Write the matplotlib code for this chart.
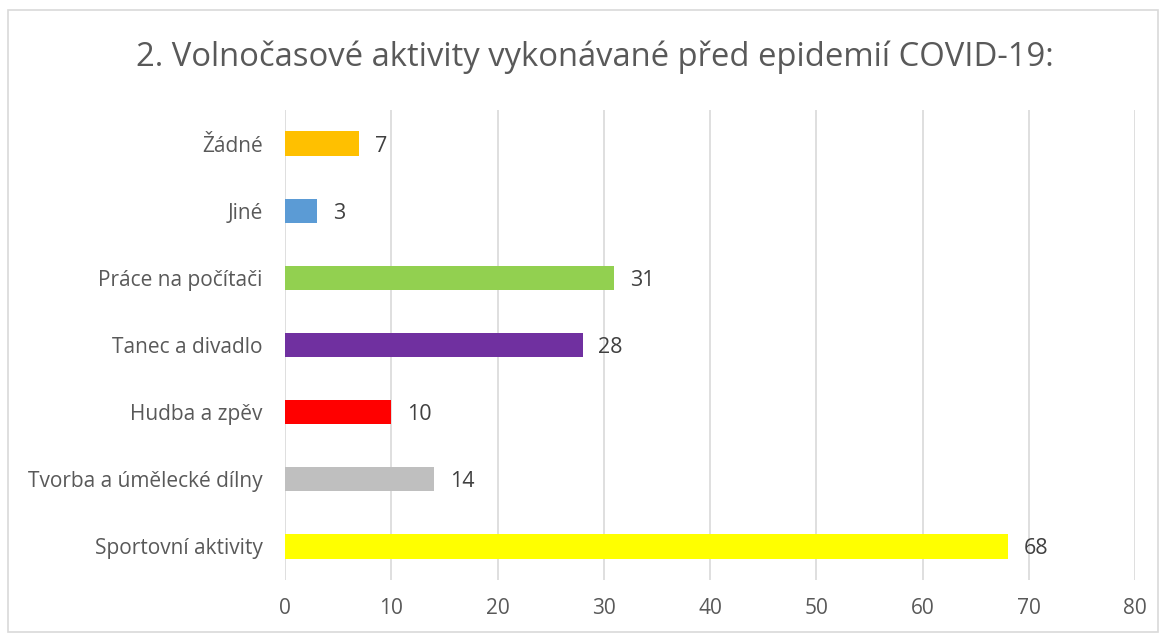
import matplotlib.pyplot as plt
from matplotlib.patches import Rectangle

categories = ['Sportovní aktivity', 'Tvorba a úmělecké dílny', 'Hudba a zpěv',
              'Tanec a divadlo', 'Práce na počítači', 'Jiné', 'Žádné']
values = [68, 14, 10, 28, 31, 3, 7]
colors = ['#FFFF00', '#BFBFBF', '#FF0000', '#7030A0', '#92D050', '#5B9BD5', '#FFC000']

plt.rcParams['font.family'] = ['Open Sans', 'DejaVu Sans']
text_col = '#595959'

fig = plt.figure(figsize=(11.67, 6.35), dpi=100)
fig.patches.append(Rectangle((8 / 1167, 0.005), 1150 / 1167, 1 - 10 / 635 - 0.005,
                             transform=fig.transFigure, fill=False,
                             edgecolor='#d9d9d9', linewidth=1.2))
ax = fig.add_axes([285 / 1167, 1 - 580 / 635, 850 / 1167, 470 / 635])

y = range(len(categories))
ax.barh(y, values, height=0.36, color=colors, zorder=3)
for yi, v in zip(y, values):
    ax.text(v + 1.5, yi, str(v), va='center_baseline', ha='left', fontsize=15.5, color='#404040')

ax.set_xlim(0, 80)
ax.set_ylim(-0.5, len(categories) - 0.5)
ax.set_xticks(range(0, 81, 10))
ax.set_yticks(list(y))
ax.set_yticklabels(categories)
ax.grid(axis='x', color='#d9d9d9', linewidth=1.2, zorder=0)
for s in ax.spines.values():
    s.set_visible(False)
ax.tick_params(axis='both', length=0, labelsize=15, colors=text_col)
ax.tick_params(axis='x', pad=13)
ax.tick_params(axis='y', pad=16)

fig.text(595 / 1167, 1 - 57 / 635, '2. Volnočasové aktivity vykonávané před epidemií COVID-19:',
         ha='center', va='center', fontsize=23.6, color=text_col)

fig.savefig('out.png', dpi=100)
